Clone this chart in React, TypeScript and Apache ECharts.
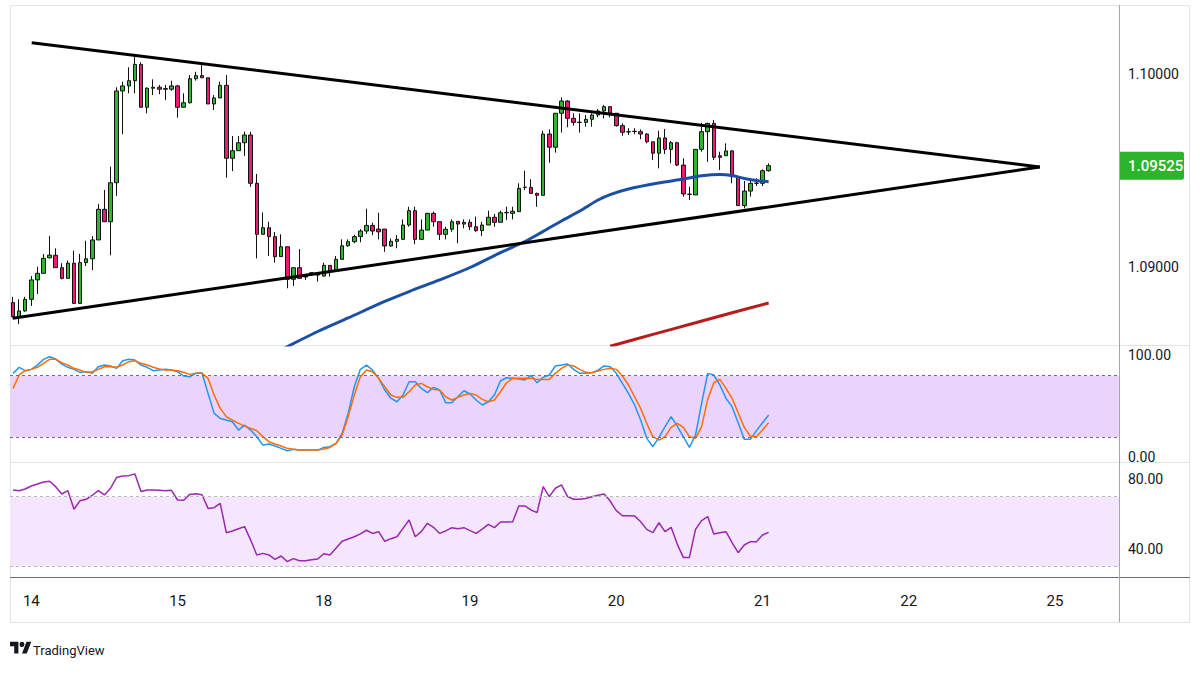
import React, { useEffect, useRef } from 'react';
import * as echarts from 'echarts';

// hourly EUR/USD style candles, one slot per hour, empty slots up to the triangle apex
const slotCount = 182;
const dayLabels = ['14', '15', '18', '19', '20', '21', '22', '25'];
const dayStartIndex = [3, 27, 51, 75, 99, 123, 147, 171];

const opens = [
    1.08819, 1.08746, 1.08776, 1.08836, 1.08936, 1.08970, 1.09050, 1.09063, 1.08999, 1.08944,
    1.09022, 1.08815, 1.09025, 1.09045, 1.09142, 1.09300, 1.09236, 1.09437, 1.09910, 1.09936,
    1.09963, 1.10047, 1.09826, 1.09924, 1.09929, 1.09922, 1.09919, 1.09936, 1.09826, 1.09849,
    1.09973, 1.09989, 1.09978, 1.09843, 1.09874, 1.09939, 1.09563, 1.09602, 1.09643, 1.09683,
    1.09434, 1.09171, 1.09205, 1.09159, 1.09056, 1.09107, 1.08939, 1.08999, 1.08951, 1.08973,
    1.08966, 1.08956, 1.09011, 1.08983, 1.09042, 1.09112, 1.09133, 1.09159, 1.09188, 1.09217,
    1.09198, 1.09198, 1.09111, 1.09135, 1.09145, 1.09219, 1.09293, 1.09145, 1.09193, 1.09279,
    1.09236, 1.09171, 1.09197, 1.09238, 1.09224, 1.09233, 1.09210, 1.09190, 1.09219, 1.09259,
    1.09233, 1.09282, 1.09279, 1.09288, 1.09413, 1.09413, 1.09382, 1.09372, 1.09688, 1.09620,
    1.09795, 1.09858, 1.09769, 1.09748, 1.09748, 1.09764, 1.09786, 1.09807, 1.09829, 1.09795,
    1.09731, 1.09700, 1.09702, 1.09700, 1.09688, 1.09648, 1.09589, 1.09668, 1.09609, 1.09643,
    1.09528, 1.09377, 1.09374, 1.09609, 1.09700, 1.09743, 1.09576, 1.09576, 1.09601, 1.09468,
    1.09319, 1.09394, 1.09434, 1.09434, 1.09499
];
const closes = [
    1.08746, 1.08776, 1.08836, 1.08936, 1.08970, 1.09047, 1.09064, 1.08999, 1.08944, 1.09022,
    1.08815, 1.09025, 1.09045, 1.09142, 1.09300, 1.09236, 1.09437, 1.09910, 1.09936, 1.09963,
    1.10047, 1.09826, 1.09924, 1.09929, 1.09919, 1.09919, 1.09936, 1.09826, 1.09849, 1.09973,
    1.09989, 1.09978, 1.09843, 1.09874, 1.09939, 1.09563, 1.09602, 1.09643, 1.09683, 1.09434,
    1.09171, 1.09205, 1.09159, 1.09056, 1.09107, 1.08939, 1.08999, 1.08944, 1.08956, 1.08961,
    1.08961, 1.09011, 1.08983, 1.09042, 1.09112, 1.09133, 1.09159, 1.09188, 1.09217, 1.09188,
    1.09184, 1.09111, 1.09135, 1.09145, 1.09219, 1.09293, 1.09145, 1.09193, 1.09279, 1.09236,
    1.09171, 1.09197, 1.09236, 1.09224, 1.09233, 1.09210, 1.09190, 1.09219, 1.09259, 1.09233,
    1.09282, 1.09284, 1.09290, 1.09408, 1.09414, 1.09382, 1.09372, 1.09688, 1.09620, 1.09795,
    1.09858, 1.09769, 1.09748, 1.09749, 1.09764, 1.09786, 1.09807, 1.09829, 1.09795, 1.09731,
    1.09697, 1.09699, 1.09701, 1.09688, 1.09648, 1.09589, 1.09668, 1.09609, 1.09643, 1.09528,
    1.09379, 1.09378, 1.09609, 1.09700, 1.09743, 1.09568, 1.09568, 1.09601, 1.09468, 1.09319,
    1.09394, 1.09434, 1.09435, 1.09499, 1.09525
];
const lows = [
    1.08743, 1.08709, 1.08772, 1.08802, 1.08863, 1.08970, 1.09047, 1.08999, 1.08939, 1.08944,
    1.08815, 1.08812, 1.09008, 1.08987, 1.09142, 1.09236, 1.09063, 1.09369, 1.09687, 1.09898,
    1.09898, 1.09826, 1.09795, 1.09889, 1.09893, 1.09863, 1.09911, 1.09772, 1.09826, 1.09846,
    1.09963, 1.09978, 1.09843, 1.09812, 1.09874, 1.09463, 1.09497, 1.09602, 1.09575, 1.09416,
    1.09047, 1.09171, 1.09059, 1.09025, 1.09056, 1.08893, 1.08905, 1.08944, 1.08936, 1.08956,
    1.08927, 1.08953, 1.08953, 1.08983, 1.09042, 1.09107, 1.09125, 1.09130, 1.09173, 1.09167,
    1.09145, 1.09081, 1.09107, 1.09099, 1.09142, 1.09210, 1.09120, 1.09145, 1.09193, 1.09210,
    1.09142, 1.09145, 1.09184, 1.09125, 1.09202, 1.09193, 1.09184, 1.09162, 1.09219, 1.09210,
    1.09233, 1.09245, 1.09248, 1.09288, 1.09399, 1.09382, 1.09313, 1.09372, 1.09540, 1.09592,
    1.09695, 1.09723, 1.09731, 1.09695, 1.09726, 1.09726, 1.09774, 1.09769, 1.09774, 1.09726,
    1.09679, 1.09683, 1.09687, 1.09661, 1.09640, 1.09554, 1.09511, 1.09585, 1.09537, 1.09523,
    1.09365, 1.09348, 1.09374, 1.09597, 1.09545, 1.09554, 1.09503, 1.09576, 1.09434, 1.09319,
    1.09305, 1.09365, 1.09420, 1.09420, 1.09494
];
const highs = [
    1.08849, 1.08836, 1.08849, 1.08956, 1.09004, 1.09070, 1.09162, 1.09099, 1.09022, 1.09035,
    1.09087, 1.09070, 1.09138, 1.09162, 1.09327, 1.09400, 1.09520, 1.09929, 1.09958, 1.10032,
    1.10087, 1.10058, 1.09929, 1.09970, 1.09941, 1.09941, 1.09963, 1.09941, 1.09898, 1.09992,
    1.10009, 1.10047, 1.09978, 1.09889, 1.09958, 1.09992, 1.09678, 1.09678, 1.09700, 1.09700,
    1.09482, 1.09284, 1.09236, 1.09183, 1.09171, 1.09107, 1.08999, 1.09095, 1.08961, 1.08977,
    1.08973, 1.09025, 1.09011, 1.09059, 1.09145, 1.09145, 1.09169, 1.09198, 1.09303, 1.09231,
    1.09282, 1.09198, 1.09150, 1.09167, 1.09248, 1.09313, 1.09313, 1.09248, 1.09282, 1.09288,
    1.09236, 1.09210, 1.09248, 1.09238, 1.09248, 1.09248, 1.09262, 1.09236, 1.09293, 1.09276,
    1.09293, 1.09313, 1.09313, 1.09434, 1.09499, 1.09455, 1.09386, 1.09705, 1.09712, 1.09795,
    1.09877, 1.09863, 1.09795, 1.09795, 1.09786, 1.09795, 1.09817, 1.09838, 1.09832, 1.09795,
    1.09743, 1.09718, 1.09718, 1.09712, 1.09692, 1.09648, 1.09705, 1.09714, 1.09652, 1.09648,
    1.09563, 1.09416, 1.09609, 1.09746, 1.09746, 1.09760, 1.09597, 1.09640, 1.09606, 1.09468,
    1.09446, 1.09460, 1.09460, 1.09506, 1.09537
];

// moving averages, read at a few candle slots: [slot, price]
const maBlue = [
    [44, 1.08576], [50, 1.08670], [55, 1.08740], [61, 1.08825], [65, 1.08876], [70, 1.08936],
    [75, 1.09000], [80, 1.09077], [84, 1.09134], [87, 1.09186], [90, 1.09240], [93, 1.09291],
    [96, 1.09348], [98, 1.09376], [101, 1.09405], [106, 1.09436], [110, 1.09456], [113, 1.09473],
    [116, 1.09480], [118, 1.09474], [120, 1.09459], [122, 1.09449], [124, 1.09442]
];
const maRed = [[98, 1.08594], [105, 1.08655], [112, 1.08715], [118, 1.08767], [124, 1.08817]];

// triangle trendlines
const upperTrend = [[3.06, 1.10159], [168.5, 1.09518]];
const lowerTrend = [[-0.06, 1.08738], [168.5, 1.09518]];

const stochK = [
    82.3, 88.2, 84.9, 86.2, 90.4, 96, 98.6, 96.3, 91.4, 88.2,
    86.2, 83.3, 83.9, 82.3, 88.8, 90.4, 89.5, 87.2, 94.7, 96,
    95.3, 90.4, 88.2, 84.9, 85.5, 86.2, 85.5, 83.9, 79.7, 79,
    82.3, 82.9, 62.7, 43.1, 38.2, 36.6, 34.9, 26.8, 31.7, 26.8,
    20.3, 12.1, 13.1, 11.2, 8.9, 6.6, 7.9, 7.2, 7.2, 7.2,
    7.2, 9.8, 10.5, 13.7, 23.5, 43.1, 69.2, 86.2, 90.4, 85.5,
    77.4, 66, 58, 54.5, 61.1, 74.1, 74.1, 67.6, 63.4, 68.6,
    66, 53.6, 53.6, 59.4, 65.3, 62.1, 56.2, 51.3, 54.5, 61.1,
    75.1, 78, 77.4, 76.7, 75.8, 80.3, 73.1, 78.4, 80.7, 89.5,
    90.4, 91.4, 86.2, 82.3, 82.3, 82.9, 85.5, 89.5, 88.8, 82.3,
    72.5, 62.7, 51.3, 36.6, 18.7, 10.5, 19.7, 30.1, 39.9, 30.7,
    20.3, 9.8, 21.9, 52.9, 82.3, 80.7, 70.9, 57.8, 49.7, 34,
    17.7, 17.7, 26.2, 34, 41.5
];
const stochD = [
    67.6, 80.7, 84.9, 86.2, 88.2, 92.1, 96, 96, 92.7, 90.4,
    87.2, 85.5, 83.3, 83.9, 86.2, 88.8, 88.8, 88.2, 90.4, 93.7,
    94.7, 92.1, 90.4, 88.2, 86.5, 85.5, 85.5, 84.9, 83.3, 81.3,
    82.3, 82.3, 77.4, 61.1, 48, 39.9, 36.6, 33.3, 30.7, 28.4,
    26.2, 20.3, 15.4, 13.1, 11.2, 8.9, 7.9, 7.2, 7.2, 7.2,
    7.2, 8.2, 9.8, 13.7, 21.9, 39.9, 61.1, 79, 85.5, 83.9,
    77.4, 69.2, 61.1, 58.8, 58.8, 64.3, 70.9, 72.5, 69.2, 66.6,
    66, 59.4, 56.2, 58.8, 61.1, 62.7, 61.1, 56.8, 54.5, 56.2,
    64.3, 73.1, 77.4, 77.4, 77.4, 77.4, 76.4, 76.4, 76.4, 82.3,
    87.2, 90.4, 89.5, 86.2, 83.3, 82.9, 84.6, 86.2, 87.2, 86.2,
    79.7, 70.9, 59.4, 48, 33.3, 20.3, 17, 20.3, 29.4, 33.3,
    29.4, 20.3, 18.7, 30.1, 56.8, 73.1, 76.4, 67.6, 57.8, 43.8,
    29.4, 20.9, 20.3, 26.8, 34
];
const rsi = [
    73.8, 73.4, 74.4, 76.1, 77.2, 78.4, 78.8, 75.7, 71.5, 73.4,
    62.8, 67.7, 68.5, 70.8, 73.4, 71, 74.8, 81, 81.8, 82,
    83, 72.9, 73.8, 73.8, 73.6, 73.4, 73.6, 68.1, 67.9, 71.3,
    71.7, 71.1, 63.3, 63.7, 66.2, 49.4, 50.4, 51.7, 52.9, 45.2,
    36.7, 37.6, 36.7, 34.2, 36.1, 32.9, 34.6, 33.4, 33.4, 34,
    34.4, 37.4, 36.7, 40.5, 44.5, 45.8, 47.1, 48.7, 50.8, 49,
    50, 44.5, 46, 47.1, 51.9, 56.7, 47.1, 50, 54.8, 52.5,
    49, 50.4, 52.3, 51.7, 52.3, 50.6, 49, 51.5, 54.2, 52.3,
    55.5, 55.5, 55.7, 64.7, 64.7, 62.4, 60.9, 75.7, 70, 74.8,
    76.7, 70, 68.5, 68.5, 69, 70, 70.8, 71.5, 67.5, 62,
    59.1, 59.1, 59, 55.7, 51.3, 49.4, 55.1, 50, 52.5, 42.9,
    35.3, 35.3, 51.3, 56.3, 58.6, 48.7, 49.4, 50, 43.7, 38,
    42.4, 44.3, 44.3, 48.1, 49.6
];

const priceTicks = [1.09, 1.1];
const stochTicks = [0, 100];
const rsiTicks = [40, 80];
const stochBand = [20, 80];
const rsiBand = [30, 70];

const FONT = 'Roboto, "Noto Sans", sans-serif';
const TEXT = '#131722';
const BULL = '#2fb52f';
const BEAR = '#ef196d';

echarts.graphic.registerShape(
    'tvlogo',
    echarts.graphic.extendPath(
        'M14 22H7V11H0V4h14v18zM28 22h-8l7.5-18h8L28 22zM20 4a4 4 0 1 1 0 8a4 4 0 1 1 0-8z',
        {}
    )
);

const categories = Array.from({ length: slotCount }, (_, i) => String(i));
const dayLabelOf = (v: string) => {
    const k = dayStartIndex.indexOf(Number(v));
    return k >= 0 ? dayLabels[k] : '';
};

const sideLabel = (ticks: number[], digits: number) => ({
    customValues: ticks,
    formatter: (v: number) => v.toFixed(digits),
    margin: 9,
    fontSize: 14,
    color: TEXT,
    fontFamily: FONT
});

const hiddenY = {
    axisLine: { show: false },
    axisTick: { show: false },
    splitLine: { show: false }
};

const buildOption = (): echarts.EChartsOption => ({
    animation: false,
    backgroundColor: '#ffffff',
    grid: [
        { left: 10, top: 5, width: 1109, height: 340 },
        { left: 10, top: 345, width: 1109, height: 117 },
        { left: 10, top: 462, width: 1109, height: 115 }
    ],
    xAxis: [
        { type: 'category', gridIndex: 0, data: categories, show: false },
        { type: 'category', gridIndex: 1, data: categories, show: false },
        {
            type: 'category',
            gridIndex: 2,
            data: categories,
            axisLine: { show: false },
            axisTick: { show: false },
            axisLabel: {
                interval: 0,
                margin: 16,
                fontSize: 15,
                color: TEXT,
                fontFamily: FONT,
                formatter: dayLabelOf
            }
        },
        { type: 'value', gridIndex: 0, min: -0.5, max: slotCount - 0.5, show: false }
    ],
    yAxis: [
        {
            type: 'value', gridIndex: 0, position: 'right',
            min: 1.086005, max: 1.103531,
            ...hiddenY,
            axisLabel: sideLabel(priceTicks, 5)
        },
        {
            type: 'value', gridIndex: 1, position: 'right',
            min: -4.47, max: 110.05,
            ...hiddenY,
            axisLabel: sideLabel(stochTicks, 2)
        },
        {
            type: 'value', gridIndex: 2, position: 'right',
            min: 24.1, max: 89.8,
            ...hiddenY,
            axisLabel: sideLabel(rsiTicks, 2)
        }
    ],
    series: [
        {
            type: 'candlestick',
            xAxisIndex: 0,
            yAxisIndex: 0,
            barWidth: 4,
            data: opens.map((o, i) => [o, closes[i], lows[i], highs[i]]),
            itemStyle: {
                color: BULL,
                color0: BEAR,
                borderColor: '#111111',
                borderColor0: '#111111',
                borderWidth: 1
            }
        },
        {
            type: 'line', xAxisIndex: 3, yAxisIndex: 0, data: maRed, symbol: 'none',
            smooth: 0.3, lineStyle: { color: '#b71c1c', width: 3 }, z: 4
        },
        {
            type: 'line', xAxisIndex: 3, yAxisIndex: 0, data: maBlue, symbol: 'none',
            smooth: 0.3, lineStyle: { color: '#1b4fa6', width: 3 }, z: 4
        },
        {
            type: 'line', xAxisIndex: 3, yAxisIndex: 0, data: upperTrend, symbol: 'none',
            lineStyle: { color: '#000000', width: 3 }, z: 5
        },
        {
            type: 'line', xAxisIndex: 3, yAxisIndex: 0, data: lowerTrend, symbol: 'none',
            lineStyle: { color: '#000000', width: 3 }, z: 5
        },
        {
            type: 'line', xAxisIndex: 1, yAxisIndex: 1, data: stochK, symbol: 'none',
            lineStyle: { color: '#2196f3', width: 1.5 }, z: 4,
            markArea: {
                silent: true,
                itemStyle: { color: '#ead3fc' },
                data: [[{ yAxis: stochBand[0] }, { yAxis: stochBand[1] }]]
            },
            markLine: {
                silent: true, symbol: 'none', label: { show: false },
                lineStyle: { color: '#6b6e78', type: [3, 3], width: 1 },
                data: stochBand.map((v) => ({ yAxis: v }))
            }
        },
        {
            type: 'line', xAxisIndex: 1, yAxisIndex: 1, data: stochD, symbol: 'none',
            lineStyle: { color: '#ff6d00', width: 1.5 }, z: 4
        },
        {
            type: 'line', xAxisIndex: 2, yAxisIndex: 2, data: rsi, symbol: 'none',
            lineStyle: { color: '#9c27b0', width: 1.5 }, z: 4,
            markArea: {
                silent: true,
                itemStyle: { color: '#f4e7fd' },
                data: [[{ yAxis: rsiBand[0] }, { yAxis: rsiBand[1] }]]
            },
            markLine: {
                silent: true, symbol: 'none', label: { show: false },
                lineStyle: { color: '#b8b8c0', type: [3, 3], width: 1 },
                data: rsiBand.map((v) => ({ yAxis: v }))
            }
        }
    ]
});

const buildGraphics = (lastY: number) => {
    const hLine = (y: number, color: string) => ({
        type: 'line', silent: true,
        shape: { x1: 10, y1: y, x2: 1190, y2: y },
        style: { stroke: color, lineWidth: 1 }
    });
    return [
        {
            type: 'rect', silent: true,
            shape: { x: 10.5, y: 5.5, width: 1179, height: 617 },
            style: { fill: 'none', stroke: '#e0e3eb', lineWidth: 1 }
        },
        hLine(345.5, '#e0e3eb'),
        hLine(462.5, '#e0e3eb'),
        hLine(577.5, '#6a6d78'),
        {
            type: 'line', silent: true,
            shape: { x1: 1119.5, y1: 5, x2: 1119.5, y2: 622 },
            style: { stroke: '#a3a6af', lineWidth: 1 }
        },
        {
            type: 'group', x: 1120, y: lastY - 14, silent: true,
            children: [
                { type: 'rect', shape: { x: 0, y: 0, width: 64, height: 28, r: [0, 2, 2, 0] }, style: { fill: '#2cb52a' } },
                {
                    type: 'text', x: 8, y: 14,
                    style: {
                        text: closes[closes.length - 1].toFixed(5),
                        fill: '#ffffff', font: `500 15px ${FONT}`, textVerticalAlign: 'middle'
                    }
                }
            ]
        },
        {
            type: 'tvlogo', x: 10, y: 639.3, scaleX: 0.6, scaleY: 0.64, silent: true,
            style: { fill: TEXT }
        },
        {
            type: 'text', x: 33, y: 650, silent: true,
            style: { text: 'TradingView', fill: TEXT, font: `13px ${FONT}`, textVerticalAlign: 'middle' }
        }
    ];
};

const App: React.FC = () => {
    const chartRef = useRef<HTMLDivElement>(null);

    useEffect(() => {
        if (!chartRef.current) return;
        const chart = echarts.init(chartRef.current, null, { renderer: 'svg' });
        chart.setOption(buildOption());
        const lastY = chart.convertToPixel({ yAxisIndex: 0 }, closes[closes.length - 1]) as number;
        chart.setOption({ graphic: buildGraphics(lastY) as any });
        return () => {
            chart.dispose();
        };
    }, []);

    return (
        <div
            ref={chartRef}
            style={{ position: 'absolute', left: 0, top: 0, width: '1200px', height: '675px', background: '#fff' }}
        />
    );
};

export default App;
